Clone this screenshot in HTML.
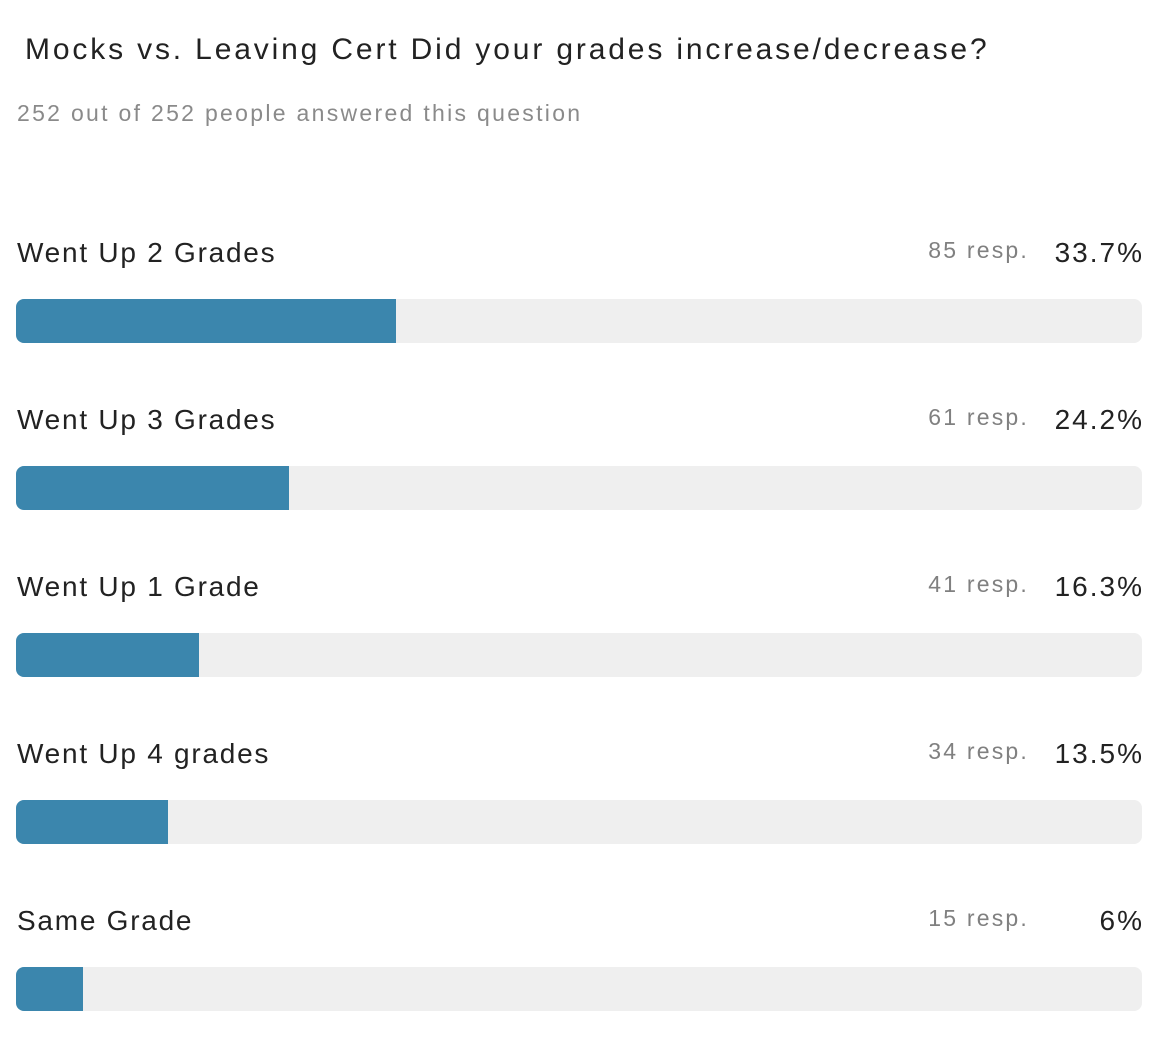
<!DOCTYPE html>
<html><head><meta charset="utf-8"><style>
body{margin:0;width:1162px;height:1044px;background:#fff;font-family:"Liberation Sans",sans-serif;position:relative;overflow:hidden}
.abs{position:absolute;white-space:nowrap}
#title{left:25px;top:33px;font-size:30px;color:#222;letter-spacing:2.85px}
#sub{left:17px;top:100px;font-size:23px;color:#8a8a8a;letter-spacing:2.3px}
.label{left:17px;font-size:28px;color:#222;letter-spacing:1.75px}
.resp{font-size:23px;color:#808080;text-align:right;width:200px;left:829px;letter-spacing:2.2px}
.pct{font-size:28px;color:#222;text-align:right;width:200px;left:944px;letter-spacing:2px}
.track{left:16px;width:1126px;height:44px;background:#efefef;border-radius:8px;overflow:hidden}
.fill{height:44px;background:#3b86ad}
</style></head><body>
<div class="abs" id="title">Mocks vs. Leaving Cert Did your grades increase/decrease?</div>
<div class="abs" id="sub">252 out of 252 people answered this question</div>
<div id="rows"></div>
<script>
const categories=["Went Up 2 Grades","Went Up 3 Grades","Went Up 1 Grade","Went Up 4 grades","Same Grade"];
const counts=[85,61,41,34,15];
const percentLabels=["33.7%","24.2%","16.3%","13.5%","6%"];
const total=252;
const rows=document.getElementById('rows');
categories.forEach((c,i)=>{
  const y0=237+i*167;
  const l=document.createElement('div');l.className='abs label';l.style.top=y0+'px';l.textContent=c;
  
  
  const r=document.createElement('div');r.className='abs resp';r.style.top=(y0)+'px';r.textContent=counts[i]+' resp.';
  
  
  const p=document.createElement('div');p.className='abs pct';p.style.top=y0+'px';p.textContent=percentLabels[i];
  
  
  const t=document.createElement('div');t.className='abs track';t.style.top=(y0+62)+'px';
  
  
  const f=document.createElement('div');f.className='fill';f.style.width=(counts[i]/total*100)+'%';
  
  
  t.appendChild(f);
  rows.append(l,r,p,t);
});
</script>
</body></html>
